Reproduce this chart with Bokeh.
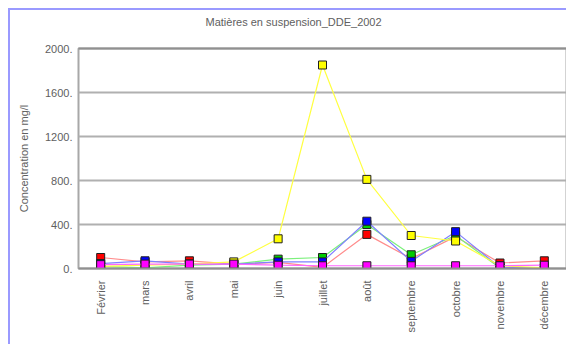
import math
from bokeh.plotting import figure
from bokeh.models import FixedTicker, Range1d, LinearAxis
from bokeh.embed import file_html
from bokeh.resources import INLINE

months = ["Février", "mars", "avril", "mai", "juin", "juillet", "août",
          "septembre", "octobre", "novembre", "décembre"]

red_vals = [100, 60, 70, 40, 55, 10, 310, 90, 290, 50, 70]
green_vals = [20, 5, 30, 40, 85, 100, 400, 125, 300, 5, 0]
blue_vals = [45, 70, 40, 40, 60, 60, 430, 65, 335, 10, 5]
yellow_vals = [20, 30, 40, 60, 270, 1850, 810, 300, 250, 25, 5]
magenta_vals = [35, 40, 40, 40, 30, 25, 25, 25, 25, 25, 30]

y_ticks = [0, 400, 800, 1200, 1600, 2000]
y_tick_labels = ["0.", "400.", "800.", "1200.", "1600.", "2000."]
title_text = "Matières en suspension_DDE_2002"

series = [
    (red_vals, "#ff8c8c", "#ff0000"),
    (green_vals, "#7cf07c", "#00cc00"),
    (blue_vals, "#8080ff", "#0000ff"),
    (yellow_vals, "#ffff40", "#ffff00"),
    (magenta_vals, "#ff66ff", "#ff00ff"),
]

FONT = "Liberation Sans"
GREY = "#606060"

p = figure(x_range=months, y_range=Range1d(0, 2000), width=558, height=336,
           output_backend="svg", toolbar_location=None, title=title_text,
           min_border_left=68, min_border_right=2, min_border_top=38,
           min_border_bottom=78)
p.styles = {"border-left": "2px solid #9a9aff", "border-top": "2px solid #9a9aff",
            "margin-left": "8px", "margin-top": "8px"}

p.title.align = "left"
p.title.offset = 127
p.title.text_font = FONT
p.title.text_font_size = "11px"
p.title.text_font_style = "normal"
p.title.text_color = GREY
p.title.standoff = 6

# empty spacer panel between the title and the plot frame
spacer = LinearAxis(ticker=FixedTicker(ticks=[]), axis_line_color=None,
                    major_tick_out=0, minor_tick_out=0, major_label_standoff=0,
                    axis_label=" ", axis_label_text_font_size="1px",
                    axis_label_standoff=3)
p.add_layout(spacer, "above")

p.outline_line_color = "#a8a8a8"
p.outline_line_width = 2
p.background_fill_color = "white"
p.border_fill_color = "white"

p.xgrid.grid_line_color = None
p.ygrid.grid_line_color = "#b0b0b0"
p.ygrid.grid_line_width = 2
p.ygrid.ticker = FixedTicker(ticks=y_ticks)

p.yaxis.ticker = FixedTicker(ticks=y_ticks)
p.yaxis.major_label_overrides = {t: l for t, l in zip(y_ticks, y_tick_labels)}
p.yaxis.axis_label = "Concentration en mg/l"
for ax in (p.xaxis, p.yaxis):
    ax.axis_line_color = "#909090"
    ax.axis_line_width = 2
    ax.major_tick_line_color = None
    ax.minor_tick_line_color = None
    ax.major_label_text_font = FONT
    ax.major_label_text_font_size = "11px"
    ax.major_label_text_color = GREY
    ax.axis_label_text_font = FONT
    ax.axis_label_text_font_size = "11px"
    ax.axis_label_text_font_style = "normal"
    ax.axis_label_text_color = GREY
p.yaxis.axis_line_color = None
p.yaxis.major_tick_out = 0
p.yaxis.minor_tick_out = 0
p.yaxis.major_label_standoff = 6
p.yaxis.axis_label_standoff = 12
p.xaxis.major_label_orientation = math.pi / 2
p.xaxis.major_label_standoff = 6

for vals, lc, fc in series:
    p.line(months, vals, line_color=lc, line_width=1.2)
    p.scatter(months, vals, marker="square", size=8, fill_color=fc,
              line_color="#202020", line_width=1)

open("out.html", "w").write(file_html(p, INLINE))
